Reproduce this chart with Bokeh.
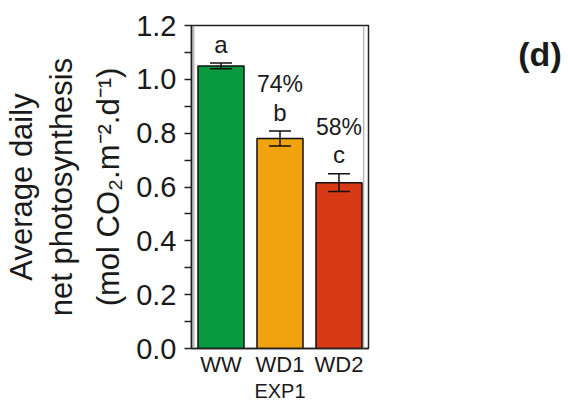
from bokeh.plotting import figure
from bokeh.layouts import row
from bokeh.models import (FactorRange, Range1d, FixedTicker, Whisker, ColumnDataSource,
                          Label, TeeHead, PrintfTickFormatter, Span, Title)
from bokeh.core.properties import value
from bokeh.embed import file_html
from bokeh.resources import INLINE

# ---- data ----
treatments = ["WW", "WD1", "WD2"]
means = [1.05, 0.78, 0.616]
errors = [0.011, 0.028, 0.033]
letters = ["a", "b", "c"]
percent_labels = ["", "74%", "58%"]
colors = ["#089a3e", "#f0a30f", "#d83a16"]
y_ticks = [0.0, 0.2, 0.4, 0.6, 0.8, 1.0, 1.2]
y_minor_ticks = [0.1, 0.3, 0.5, 0.7, 0.9, 1.1]
group_label = "EXP1"
panel_label = "(d)"
y_title_lines = ["Average daily", "net photosynthesis", "(mol CO\u2082.m\u207b\u00b2.d\u207b\u00b9)"]

FONT = "Liberation Sans"
INK = "#1a1a1a"

upper = [m + e for m, e in zip(means, errors)]
lower = [m - e for m, e in zip(means, errors)]
letter_y = [u + 0.07 for u in upper]
pct_y = [ly + 0.104 for ly in letter_y]

src = ColumnDataSource(dict(x=treatments, top=means, upper=upper, lower=lower,
                            color=colors, letter=letters, letter_y=letter_y,
                            pct=percent_labels, pct_y=pct_y))

p = figure(x_range=FactorRange(*treatments), y_range=Range1d(0, 1.2),
           width=380, height=404, output_backend="svg", toolbar_location=None,
           min_border_left=188, min_border_right=12, min_border_top=25,
           min_border_bottom=53)
p.background_fill_color = "white"
p.border_fill_color = "white"
p.outline_line_color = "#222222"
p.outline_line_width = 1.5
p.xgrid.visible = False
p.ygrid.visible = False

# inner faint frame lines
p.add_layout(Span(location=0.04, dimension="height", line_color="#9a9a9a", line_width=1))
p.add_layout(Span(location=2.92, dimension="height", line_color="#9a9a9a", line_width=1))

p.vbar(x="x", top="top", width=0.78, source=src, fill_color="color",
       line_color="#111111", line_width=1.5)

w = Whisker(base="x", upper="upper", lower="lower", source=src,
            line_color="#111111", line_width=1.5, level="overlay",
            upper_head=TeeHead(size=22, line_width=1.5, line_color="#111111"),
            lower_head=TeeHead(size=22, line_width=1.5, line_color="#111111"))
p.add_layout(w)

p.text(x="x", y="letter_y", text="letter", source=src, text_font=value(FONT),
       text_font_size="24px", text_align="center", text_baseline="alphabetic",
       text_color=INK)
p.text(x="x", y="pct_y", text="pct", source=src, text_font=value(FONT),
       text_font_size="23px", text_align="center", text_baseline="alphabetic",
       text_color=INK)

# y axis
ya = p.yaxis[0]
ya.ticker = FixedTicker(ticks=y_ticks, minor_ticks=y_minor_ticks)
ya.formatter = PrintfTickFormatter(format="%.1f")
ya.major_label_text_font = FONT
ya.major_label_text_font_size = "29px"
ya.major_label_text_color = INK
ya.major_tick_out = 7
ya.major_tick_in = 0
ya.minor_tick_out = 7
ya.minor_tick_in = 0
ya.major_label_standoff = 8
ya.axis_line_width = 1.5
ya.axis_line_color = "#222222"
ya.major_tick_line_color = "#222222"
ya.minor_tick_line_color = "#222222"
ya.major_tick_line_width = 1.5
ya.minor_tick_line_width = 1.5

# x axis
xa = p.xaxis[0]
xa.major_tick_out = 0
xa.major_tick_in = 0
xa.minor_tick_line_color = None
xa.major_label_text_font = FONT
xa.major_label_text_font_size = "22px"
xa.major_label_text_color = INK
xa.major_label_standoff = 3
xa.axis_label = group_label
xa.axis_label_text_font = FONT
xa.axis_label_text_font_size = "20px"
xa.axis_label_text_font_style = "normal"
xa.axis_label_text_color = INK
xa.axis_label_standoff = 0
xa.axis_line_width = 1.5
xa.axis_line_color = "#222222"

# y title: three stacked vertical titles (innermost added first)
title_standoffs = [3, 3, 16]
for line, so in reversed(list(zip(y_title_lines, title_standoffs))):
    p.add_layout(Title(text=line, align="center", text_font=FONT,
                       text_font_size="31px", text_font_style="normal",
                       text_color=INK, standoff=so), "left")

# side panel holding the panel letter (its frame is aligned with the main frame)
p2 = figure(width=188, height=404, x_range=Range1d(0, 1), y_range=Range1d(0, 1),
            output_backend="svg", toolbar_location=None, min_border=0,
            x_axis_location=None, y_axis_location=None)
p2.outline_line_color = None
p2.grid.visible = False
p2.add_layout(Label(x=159.5, y=295, x_units="screen", y_units="screen",
                    text=panel_label, text_align="center",
                    text_baseline="alphabetic", text_font=FONT,
                    text_font_size="34px", text_font_style="bold", text_color=INK))

layout = row(p, p2, spacing=0)
open("out.html", "w").write(file_html(layout, INLINE))
